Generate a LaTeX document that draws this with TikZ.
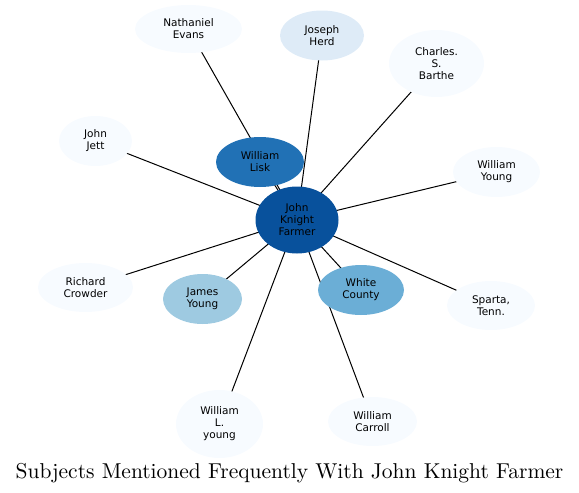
\documentclass[tikz,border=0pt]{standalone}
\usepackage{fontspec}
\newfontfamily\dejavu{DejaVu Sans}
\newfontfamily\capfont{lmroman10-regular.otf}
\usetikzlibrary{shapes.geometric, backgrounds}
\definecolor{bl0}{HTML}{F7FBFF}
\definecolor{bl1}{HTML}{DEEBF7}
\definecolor{bl3}{HTML}{9ECAE1}
\definecolor{bl4}{HTML}{6BAED6}
\definecolor{bl6}{HTML}{2171B5}
\definecolor{bl7}{HTML}{08519C}
\tikzset{
  every picture/.style={x=1pt, y=-1pt},
  person/.style={ellipse, fill=#1, draw=none, inner sep=0pt, align=center,
    font=\dejavu\fontsize{10.5}{12}\selectfont, text=black},
  person/.default=bl0,
  edge/.style={draw=black, line width=1pt},
  title/.style={font=\capfont\fontsize{21.5}{24}\selectfont, anchor=base},
}
\begin{document}
\begin{tikzpicture}
  \useasboundingbox (0,0) rectangle (579,493);
  % centre of the star
  \node[person=bl7, minimum width=83, minimum height=67] (farmer) at (297,220) {John\\Knight\\Farmer};
  % people and places round it
  \node[person=bl6, minimum width=88, minimum height=50] (lisk) at (260,162) {William\\Lisk};
  \node[person, minimum width=107, minimum height=48] (evans) at (188.5,29) {Nathaniel\\Evans};
  \node[person=bl1, minimum width=84, minimum height=50] (herd) at (322,35.5) {Joseph\\Herd};
  \node[person, minimum width=95, minimum height=67] (barthe) at (436.5,63.5) {Charles.\\S.\\Barthe};
  \node[person, minimum width=87, minimum height=50] (wyoung) at (496.5,172) {William\\Young};
  \node[person, minimum width=73, minimum height=50] (jett) at (95.5,141) {John\\Jett};
  \node[person, minimum width=95, minimum height=49] (crowder) at (85.5,287.5) {Richard\\Crowder};
  \node[person=bl3, minimum width=79, minimum height=50] (jyoung) at (202.5,299) {James\\Young};
  \node[person=bl4, minimum width=86, minimum height=50] (white) at (361,290) {White\\County};
  \node[person, minimum width=88, minimum height=49] (sparta) at (491,305.5) {Sparta,\\Tenn.};
  \node[person, minimum width=89, minimum height=49] (carroll) at (372.5,421.5) {William\\Carroll};
  \node[person, minimum width=87, minimum height=68] (wlyoung) at (219.5,424) {William\\L.\\young};
  % edges behind the nodes
  \begin{scope}[on background layer]
    \foreach \n in {lisk,evans,herd,barthe,wyoung,jett,crowder,jyoung,white,sparta,carroll,wlyoung}
      \draw[edge] (farmer.center) -- (\n.center);
  \end{scope}
  \node[title] (caption) at (289.5,478) {Subjects Mentioned Frequently With John Knight Farmer};
\end{tikzpicture}
\end{document}
